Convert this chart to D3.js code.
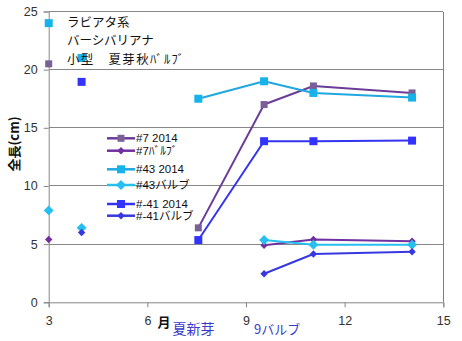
<!DOCTYPE html>
<html><head><meta charset="utf-8">
<script src="https://cdn.jsdelivr.net/npm/d3@7"></script>
<style>body{margin:0;background:#fff;}svg{display:block;}</style>
</head><body>
<svg id="c" width="462" height="341"></svg>
<script>
// ---- data ----
const monthsEarly = [3, 4];
const monthsMain = [7.55, 9.55, 11.05, 14.05];
const seriesNames = ["#7 2014", "#7ﾊﾞﾙﾌﾞ", "#43 2014", "#43バルブ", "#-41 2014", "#-41バルブ"];
const s7_2014_early = [20.5, null];
const s7_2014 = [6.4, 17.0, 18.6, 18.0];
const s7_bulb_early = [5.4, null];
const s7_bulb = [null, 4.9, 5.4, 5.25];
const s43_2014_early = [24.0, 21.0];
const s43_2014 = [17.5, 19.0, 18.0, 17.6];
const s43_bulb_early = [7.9, 6.4];
const s43_bulb = [null, 5.35, 4.95, 4.95];
const s41_2014_early = [null, 18.95];
const s41_2014 = [5.35, 13.85, 13.85, 13.9];
const s41_bulb_early = [null, 6.0];
const s41_bulb = [null, 2.45, 4.15, 4.35];
const xTicks = [3, 6, 9, 12, 15];
const yTicks = [0, 5, 10, 15, 20, 25];
const notes = ["ラビアタ系", "バーシバリアナ", "小型\u3000夏芽秋ﾊﾞﾙﾌﾞ"];
const yTitle = "全長(cm)";
const xTitle = "月";
const xNotes = ["夏新芽", "9バルブ"];

// ---- styles ----
const styles = [
  {line: "#6b3d98", fill: "#7a6096", shape: "square", size: 7},
  {line: "#7030a0", fill: "#7030a0", shape: "diamond", size: 6},
  {line: "#1fa7df", fill: "#16b2ea", shape: "square", size: 8},
  {line: "#26bff0", fill: "#26bff0", shape: "diamond", size: 8},
  {line: "#3434f0", fill: "#3333ff", shape: "square", size: 8},
  {line: "#3838e0", fill: "#3838e0", shape: "diamond", size: 6}
];
const earlyData = [s7_2014_early, s7_bulb_early, s43_2014_early, s43_bulb_early, s41_2014_early, s41_bulb_early];
const mainData = [s7_2014, s7_bulb, s43_2014, s43_bulb, s41_2014, s41_bulb];

const svg = d3.select("#c");
const L = 48.7, R = 443.3, T = 11.5, B = 302.3;
const x = d3.scaleLinear().domain([3, 15]).range([L, R]);
const y = d3.scaleLinear().domain([0, 25]).range([B, T]);
const tickFont = "'Liberation Sans', Arial, sans-serif";
const jpFont = "'Noto Sans CJK JP', sans-serif";

// grid
svg.append("g").selectAll("line").data(yTicks.filter(d => d > 0)).join("line")
  .attr("x1", L).attr("x2", R).attr("y1", d => y(d)).attr("y2", d => y(d))
  .attr("stroke", "#878787").attr("stroke-width", 1).attr("shape-rendering", "crispEdges");
// right border
svg.append("line").attr("x1", R).attr("x2", R).attr("y1", T).attr("y2", B)
  .attr("stroke", "#6d8299").attr("shape-rendering", "crispEdges");

// axes
const yAxis = d3.axisLeft(y).tickValues(yTicks).tickSize(5).tickPadding(6);
const gy = svg.append("g").attr("transform", `translate(${L},0)`).call(yAxis);
const xAxis = d3.axisBottom(x).tickValues(xTicks).tickSize(5).tickPadding(6);
const gx = svg.append("g").attr("transform", `translate(0,${B})`).call(xAxis);
[gx, gy].forEach(g => {
  g.select(".domain").attr("stroke", "#878787");
  g.selectAll(".tick line").attr("stroke", "#878787");
  g.selectAll(".tick text").attr("fill", "#333").style("font-family", tickFont).style("font-size", "12.5px");
});
gx.selectAll(".tick text").attr("dy", "0.9em");

// shapes
function shapePath(shape, s) {
  const h = s / 2;
  if (shape === "square") return `M${-h},${-h}H${h}V${h}H${-h}Z`;
  const d = s * 0.62;
  return `M0,${-d}L${d},0L0,${d}L${-d},0Z`;
}

const line = d3.line().defined(d => d.v != null).x(d => x(d.m)).y(d => y(d.v));
mainData.forEach((arr, i) => {
  const st = styles[i];
  const pts = arr.map((v, j) => ({m: monthsMain[j], v}));
  svg.append("path").datum(pts).attr("d", line).attr("fill", "none")
    .attr("stroke", st.line).attr("stroke-width", 2).attr("stroke-linejoin", "round");
  const ep = earlyData[i].map((v, j) => ({m: monthsEarly[j], v}));
  svg.append("g").selectAll("path").data(ep.concat(pts).filter(d => d.v != null)).join("path")
    .attr("transform", d => `translate(${x(d.m)},${y(d.v)})`)
    .attr("d", shapePath(st.shape, st.size)).attr("fill", st.fill);
});

// legend
const legY = [138.3, 150.7, 169.3, 185, 204, 215.7];
const lg = svg.append("g");
seriesNames.forEach((n, i) => {
  const st = styles[i];
  lg.append("line").attr("x1", 107).attr("x2", 135).attr("y1", legY[i]).attr("y2", legY[i])
    .attr("stroke", st.line).attr("stroke-width", 2.5);
  lg.append("path").attr("transform", `translate(121,${legY[i]})`)
    .attr("d", shapePath(st.shape, st.size)).attr("fill", st.fill);
  lg.append("text").attr("x", 136).attr("y", legY[i]).attr("dy", "0.36em")
    .style("font-family", "'Liberation Sans', 'Noto Sans CJK JP', sans-serif").style("font-size", "11.5px")
    .attr("fill", "#111").text(n);
});

// notes
notes.forEach((t, i) => {
  const tx = svg.append("text").attr("x", 67).attr("y", 22.5 + i * 18.4).attr("dy", "0.36em")
    .style("font-family", jpFont).style("font-size", "12.5px").style("white-space", "pre")
    .attr("fill", "#111").text(t);
  if (i === 2) tx.attr("textLength", 117).attr("lengthAdjust", "spacing");
});

// axis titles
svg.append("text").attr("transform", "translate(14,144) rotate(-90)").attr("text-anchor", "middle")
  .attr("dy", "0.36em").style("font-family", jpFont).style("font-size", "13px").style("font-weight", "bold")
  .attr("fill", "#111").text(yTitle);
svg.append("text").attr("x", 164).attr("y", 322).attr("text-anchor", "middle").attr("dy", "0.36em")
  .style("font-family", jpFont).style("font-size", "13px").style("font-weight", "bold")
  .attr("fill", "#111").text(xTitle);
svg.append("text").attr("x", 172.5).attr("y", 329).attr("dy", "0.36em")
  .style("font-family", jpFont).style("font-size", "14px").attr("fill", "#3a3acc").text(xNotes[0]);
svg.append("text").attr("x", 254).attr("y", 329).attr("dy", "0.36em")
  .style("font-family", jpFont).style("font-size", "13px").attr("fill", "#3a3acc").text(xNotes[1]);
</script>
</body></html>
